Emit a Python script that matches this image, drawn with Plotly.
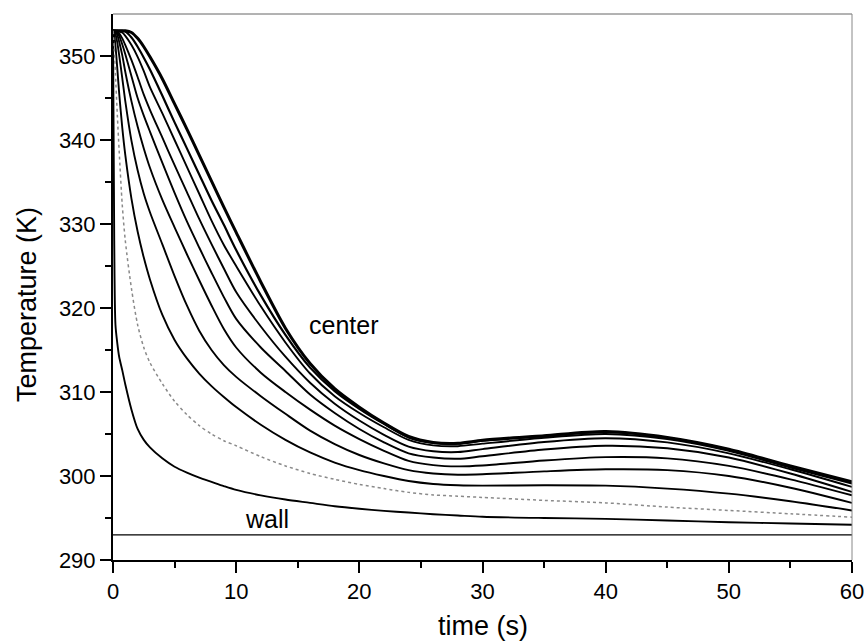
import plotly.graph_objects as go

# time (s)
t = [0, 0.1, 0.2, 0.35, 0.5, 0.75, 1, 1.5, 2, 2.5, 3, 4, 5, 6, 7, 8, 9, 10,
     12, 14, 16, 18, 20, 22, 24, 26, 28, 30, 35, 40, 45, 50, 55, 60]

# temperatures (K) from center (r0) outwards to near the wall (r9)
r0 = [353.0,353.0,353.0,353.0,353.0,353.0,353.0,352.8,352.1,351.1,349.9,347.3,344.3,341.3,338.2,335.1,332.0,329.0,
      323.1,317.6,313.4,310.4,308.2,306.3,304.7,304.0,303.9,304.25,304.8,305.3,304.6,303.2,301.2,299.3]
r1 = [353.0,353.0,353.0,353.0,353.0,353.0,352.9,352.2,351.1,349.8,348.4,345.3,342.1,339.0,335.9,332.8,329.9,326.9,
      321.5,316.8,312.9,310.1,308.0,306.2,304.6,303.95,303.85,304.2,304.75,305.25,304.55,303.15,301.15,299.25]
r2 = [353.0,353.0,353.0,353.0,352.95,352.8,352.4,351.3,349.9,348.2,346.3,343.2,340.0,336.8,333.6,330.4,327.5,325.0,
      320.2,315.9,312.2,309.5,307.5,305.8,304.3,303.65,303.55,303.85,304.55,305.0,304.4,303.0,301.0,299.1]
r3 = [353.0,353.0,353.0,352.95,352.7,352.1,351.3,349.5,347.5,345.4,343.6,340.3,337.0,333.8,330.6,327.6,324.7,321.9,
      317.8,314.2,311.1,308.6,306.6,304.9,303.5,302.95,302.85,303.2,304.05,304.5,304.0,302.7,300.8,298.7]
r4 = [353.0,353.0,353.0,352.8,352.4,351.4,350.2,347.6,345.0,342.9,341.0,337.3,333.7,330.3,327.2,324.2,321.3,318.7,
      315.3,312.5,309.7,307.5,305.6,304.0,302.7,302.2,302.05,302.35,303.15,303.6,303.3,302.2,300.3,298.1]
r5 = [353.0,353.0,352.9,352.5,351.7,350.1,348.1,344.6,341.6,339.0,336.7,332.9,329.6,326.4,323.3,320.3,317.5,315.3,
      312.3,310.0,307.9,306.0,304.4,303.0,301.8,301.3,301.15,301.25,301.85,302.25,302.1,301.2,299.6,297.7]
r6 = [353.0,352.95,352.6,351.6,350.1,347.4,344.6,339.9,336.4,333.6,331.4,327.6,323.8,320.3,317.3,315.0,313.2,311.8,
      309.5,307.4,305.4,303.8,302.5,301.5,300.7,300.3,300.15,300.2,300.55,300.8,300.7,300.0,298.6,296.8]
r7 = [353.0,352.5,351.2,348.5,345.6,341.5,338.2,333.0,329.1,326.0,323.4,319.2,316.2,314.0,312.2,310.7,309.4,308.2,
      306.1,304.3,302.8,301.6,300.7,300.0,299.4,299.05,298.9,298.85,298.9,298.85,298.5,297.9,297.0,295.9]
r8 = [353.0,351.0,347.8,343.0,338.7,332.3,328.0,322.3,318.0,315.3,313.5,311.0,308.9,307.3,306.0,305.0,304.2,303.6,
      302.3,301.2,300.3,299.6,299.0,298.5,298.05,297.75,297.6,297.45,297.1,296.8,296.3,295.9,295.5,295.1]
r9 = [353.0,328.0,318.0,315.8,314.2,312.6,310.9,307.9,305.6,304.3,303.4,302.1,301.1,300.4,299.8,299.3,298.8,298.35,
      297.7,297.2,296.8,296.4,296.1,295.85,295.65,295.45,295.3,295.15,295.0,294.9,294.7,294.5,294.35,294.2]

wall_t = [0, 60]
wall_T = [293.0, 293.0]

x_ticks = [0, 10, 20, 30, 40, 50, 60]
y_ticks = [290, 300, 310, 320, 330, 340, 350]

FONT = "Liberation Sans, Arial, sans-serif"

fig = go.Figure()

series = [r9, r7, r6, r5, r4, r3, r2, r1, r0]
widths = [1.9, 1.9, 1.9, 1.9, 1.9, 1.9, 1.9, 2.2, 3.0]
for s, w in zip(series, widths):
    fig.add_trace(go.Scatter(x=t, y=s, mode="lines",
                             line=dict(color="black", width=w, shape="spline", smoothing=0.8),
                             showlegend=False, hoverinfo="skip"))
# dotted curve (r8)
fig.add_trace(go.Scatter(x=t, y=r8, mode="lines",
                         line=dict(color="#8a8a8a", width=1.5, dash="dot", shape="spline", smoothing=0.8),
                         showlegend=False, hoverinfo="skip"))
# wall
fig.add_trace(go.Scatter(x=wall_t, y=wall_T, mode="lines",
                         line=dict(color="black", width=1.3),
                         showlegend=False, hoverinfo="skip"))

axis_common = dict(showgrid=False, zeroline=False, showline=True, linecolor="black", linewidth=2,
                   ticks="outside", ticklen=11, tickwidth=1.8, tickcolor="black",
                   ticklabeloverflow="allow", automargin=False,
                   tickfont=dict(family=FONT, size=22, color="black"))

fig.update_xaxes(range=[0, 60], tickvals=x_ticks, ticktext=[str(v) for v in x_ticks],
                 minor=dict(tickvals=[5, 15, 25, 35, 45, 55], ticks="outside", ticklen=6,
                            tickwidth=1.5, tickcolor="black"),
                 **axis_common)
fig.update_yaxes(range=[290, 355], tickvals=y_ticks, ticktext=[str(v) for v in y_ticks],
                 minor=dict(tickvals=[295, 305, 315, 325, 335, 345], ticks="outside", ticklen=6,
                            tickwidth=1.5, tickcolor="black"),
                 **axis_common)

fig.update_layout(
    width=864, height=643,
    margin=dict(l=113, r=12, t=14, b=83, pad=0, autoexpand=False),
    paper_bgcolor="white", plot_bgcolor="white",
    shapes=[
        dict(type="line", xref="paper", yref="paper", x0=0, x1=1, y0=1, y1=1,
             line=dict(color="#666666", width=1)),
        dict(type="line", xref="paper", yref="paper", x0=1, x1=1, y0=0, y1=1,
             line=dict(color="#888888", width=1)),
    ],
    annotations=[
        dict(text="Temperature (K)", xref="paper", yref="paper", x=(27 - 113) / 739, y=0.467,
             xanchor="center", yanchor="middle", textangle=-90, showarrow=False,
             font=dict(family=FONT, size=27, color="black")),
        dict(text="time (s)", xref="paper", yref="paper", x=0.5, y=(560 - 626) / 546,
             xanchor="center", yanchor="middle", showarrow=False,
             font=dict(family=FONT, size=27, color="black")),
        dict(text="center", x=18.7, y=318.0, xref="x", yref="y", showarrow=False,
             xanchor="center", yanchor="middle", font=dict(family=FONT, size=25, color="black")),
        dict(text="wall", x=12.5, y=294.9, xref="x", yref="y", showarrow=False,
             xanchor="center", yanchor="middle", font=dict(family=FONT, size=25, color="black")),
    ],
)

fig.write_html("out.html")
